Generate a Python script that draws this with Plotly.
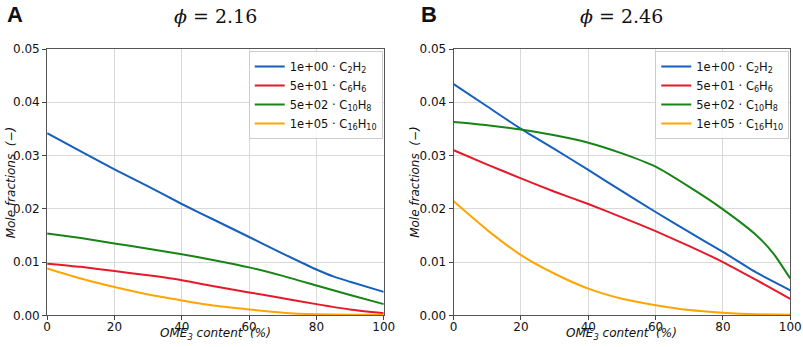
import plotly.graph_objects as go

# ---- data ----
labels = ["1e+00 · C<sub>2</sub>H<sub>2</sub>", "5e+01 · C<sub>6</sub>H<sub>6</sub>",
          "5e+02 · C<sub>10</sub>H<sub>8</sub>", "1e+05 · C<sub>16</sub>H<sub>10</sub>"]
colors = ["#1560bd", "#e6192b", "#168516", "#ffa500"]

# Panel A (phi = 2.16)
a_c2h2_x = [0, 10, 20, 30, 40, 50, 60, 70, 80, 85, 90, 100]
a_c2h2_y = [0.0342, 0.0308, 0.0274, 0.0242, 0.0209, 0.0178, 0.0147, 0.0116, 0.0086, 0.0073, 0.0063, 0.0044]
a_c6h6_x = [0, 10, 20, 30, 40, 50, 60, 70, 80, 90, 100]
a_c6h6_y = [0.0097, 0.0091, 0.0083, 0.0075, 0.0066, 0.0054, 0.0043, 0.0032, 0.0021, 0.0011, 0.0004]
a_c10h8_x = [0, 10, 20, 30, 40, 50, 60, 70, 80, 90, 100]
a_c10h8_y = [0.01535, 0.0145, 0.0135, 0.0125, 0.01147, 0.0103, 0.0090, 0.0074, 0.0056, 0.0038, 0.0021]
a_c16h10_x = [0, 10, 20, 30, 40, 50, 60, 70, 80, 90, 100]
a_c16h10_y = [0.0088, 0.0069, 0.0053, 0.0039, 0.0028, 0.0018, 0.0011, 0.0005, 0.0002, 0.0001, 0.0001]

# Panel B (phi = 2.46)
b_c2h2_x = [0, 10, 20, 30, 40, 50, 60, 70, 80, 90, 100]
b_c2h2_y = [0.0434, 0.0392, 0.0350, 0.0312, 0.0273, 0.0233, 0.0194, 0.0156, 0.0119, 0.0080, 0.0047]
b_c6h6_x = [0, 10, 20, 30, 40, 50, 60, 70, 80, 90, 100]
b_c6h6_y = [0.0310, 0.0283, 0.0257, 0.0232, 0.0209, 0.0184, 0.0158, 0.0130, 0.0100, 0.0066, 0.0031]
b_c10h8_x = [0, 10, 20, 30, 40, 50, 60, 70, 80, 90, 95, 100]
b_c10h8_y = [0.0363, 0.0357, 0.0349, 0.0338, 0.0324, 0.0304, 0.0279, 0.0241, 0.0199, 0.0150, 0.0116, 0.0069]
b_c16h10_x = [0, 10, 20, 30, 40, 50, 60, 70, 80, 90, 100]
b_c16h10_y = [0.0214, 0.0160, 0.0113, 0.0078, 0.0050, 0.0031, 0.0019, 0.0010, 0.0005, 0.0002, 0.0001]

x_ticks = [0, 20, 40, 60, 80, 100]
y_ticks = [0.00, 0.01, 0.02, 0.03, 0.04, 0.05]
titles = ["<i>ϕ</i> = 2.16", "<i>ϕ</i> = 2.46"]
panel_letters = ["A", "B"]

W, H = 803, 347

# observed rendering map (window px -> photo px): s = A + B * p ; invert it here
AX, BX = 2.8, 0.9825
AY, BY = 7.03, 0.9586


def fx(s):
    return ((s - AX) / BX) / W


def fy(s):
    return 1 - ((s - AY) / BY) / H


fig = go.Figure()

panels = [
    [(a_c2h2_x, a_c2h2_y), (a_c6h6_x, a_c6h6_y), (a_c10h8_x, a_c10h8_y), (a_c16h10_x, a_c16h10_y)],
    [(b_c2h2_x, b_c2h2_y), (b_c6h6_x, b_c6h6_y), (b_c10h8_x, b_c10h8_y), (b_c16h10_x, b_c16h10_y)],
]

xpx = [(46, 383), (453, 790)]
xdoms = [(fx(a), min(fx(b), 1.0)) for a, b in xpx]
ydom = (fy(315), fy(49))
font_main = "DejaVu Sans"

for p, series in enumerate(panels):
    xa = "x" if p == 0 else "x2"
    ya = "y" if p == 0 else "y2"
    lg = "legend" if p == 0 else "legend2"
    for i, (xs, ys) in enumerate(series):
        fig.add_trace(go.Scatter(x=xs, y=ys, mode="lines", name=labels[i],
                                 line=dict(color=colors[i], width=2, shape="spline", smoothing=0.6),
                                 xaxis=xa, yaxis=ya, legend=lg))

axis_common = dict(showgrid=True, gridcolor="#d9d9d9", gridwidth=1, zeroline=False,
                   showline=True, linecolor="#555555", linewidth=1, mirror=True,
                   ticks="outside", ticklen=4, tickcolor="#444444",
                   tickfont=dict(family=font_main, size=12, color="#111111"))

for p in range(2):
    sx = "" if p == 0 else "2"
    fig.update_layout(**{
        f"xaxis{sx}": dict(domain=list(xdoms[p]), range=[0, 100], tickvals=x_ticks,
                           anchor=f"y{sx}", ticklabelstandoff=-4, **axis_common),
        f"yaxis{sx}": dict(domain=list(ydom), range=[0, 0.05], tickvals=y_ticks,
                           tickformat=".2f", anchor=f"x{sx}", **axis_common),
    })

legend_common = dict(bgcolor="rgba(255,255,255,0.85)", bordercolor="#cccccc", borderwidth=1,
                     font=dict(family=font_main, size=11.5, color="#111111"),
                     xanchor="right", yanchor="top", y=fy(51),
                     tracegroupgap=0, itemwidth=30)
fig.update_layout(
    legend=dict(x=fx(382), **legend_common),
    legend2=dict(x=min(fx(789), 0.999), **legend_common),
)

annotations = []
centers = [fx((a + b) / 2) for a, b in xpx]
letter_x = [4, 418]
ytitle_x = [10, 414]
for p in range(2):
    annotations.append(dict(text=titles[p], x=centers[p], y=fy(16.5), xref="paper", yref="paper",
                            showarrow=False, xanchor="center", yanchor="middle",
                            font=dict(family="DejaVu Serif", size=19, color="#111111")))
    annotations.append(dict(text="<b>" + panel_letters[p] + "</b>", x=max(fx(letter_x[p]), 0.0),
                            y=fy(15), xref="paper", yref="paper", showarrow=False,
                            xanchor="left", yanchor="middle",
                            font=dict(family="Liberation Sans", size=22, color="#111111")))
    annotations.append(dict(text="<i>OME<sub>3</sub> content  (%)</i>", x=centers[p], y=fy(334),
                            xref="paper", yref="paper", showarrow=False, xanchor="center",
                            yanchor="middle", font=dict(family=font_main, size=12, color="#111111")))
    annotations.append(dict(text="<i>Mole fractions  (−)</i>", x=fx(ytitle_x[p]),
                            y=(ydom[0] + ydom[1]) / 2, xref="paper", yref="paper",
                            showarrow=False, xanchor="center", yanchor="middle", textangle=-90,
                            font=dict(family=font_main, size=12, color="#111111")))

fig.update_layout(annotations=annotations, width=W, height=H,
                  margin=dict(l=0, r=0, t=0, b=0),
                  paper_bgcolor="white", plot_bgcolor="white", showlegend=True)

js = """
var d=document.getElementById('{plot_id}');
d.style.position='fixed';d.style.left='0px';d.style.top='0px';
"""
fig.write_html("out.html", config={"displayModeBar": False}, post_script=js)
